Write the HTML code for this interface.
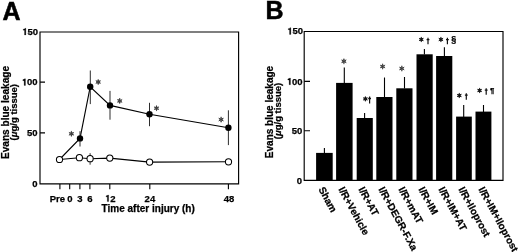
<!DOCTYPE html>
<html><head><meta charset="utf-8">
<style>
html,body{margin:0;padding:0;background:#fff;width:520px;height:252px;overflow:hidden}
svg{display:block;filter:grayscale(1)}
text{font-family:"Liberation Sans",sans-serif;font-weight:bold;fill:#000;stroke:#000;stroke-width:0.25px}
</style></head><body>
<svg width="520" height="252" viewBox="0 0 520 252">
<defs>
<g id="ast"><path d="M0,0L0.00,-2.50M0,0L2.17,-1.25M0,0L2.17,1.25M0,0L0.00,2.50M0,0L-2.17,1.25M0,0L-2.17,-1.25" stroke="#3a3a3a" stroke-width="0.80" stroke-linecap="round" fill="none"/><g fill="#3a3a3a"><circle cx="0.00" cy="-1.55" r="0.75"/><circle cx="1.34" cy="-0.77" r="0.75"/><circle cx="1.34" cy="0.77" r="0.75"/><circle cx="0.00" cy="1.55" r="0.75"/><circle cx="-1.34" cy="0.77" r="0.75"/><circle cx="-1.34" cy="-0.78" r="0.75"/></g></g>
<g id="ast2"><path d="M0,0L0.00,-2.20M0,0L1.91,-1.10M0,0L1.91,1.10M0,0L0.00,2.20M0,0L-1.91,1.10M0,0L-1.91,-1.10" stroke="#111" stroke-width="0.80" stroke-linecap="round" fill="none"/><g fill="#111"><circle cx="0.00" cy="-1.36" r="0.75"/><circle cx="1.18" cy="-0.68" r="0.75"/><circle cx="1.18" cy="0.68" r="0.75"/><circle cx="0.00" cy="1.36" r="0.75"/><circle cx="-1.18" cy="0.68" r="0.75"/><circle cx="-1.18" cy="-0.68" r="0.75"/></g></g>
<path id="one" d="M390,0V-695H292C274,-636 218,-602 115,-595V-500H252V0Z" fill="#000" stroke="#000" stroke-width="26"/>
<path id="dag" d="M0,0V6.5M-1.4,1.9H1.4" stroke="#111" stroke-width="1.2" fill="none"/>
</defs>
<rect width="520" height="252" fill="#fff"/>

<!-- ========== PANEL A ========== -->
<text x="2.4" y="19.9" font-size="25" style="stroke-width:0.5px">A</text>
<path d="M40,32H238.6V183.9H40Z" fill="none" stroke="#000" stroke-width="1.15"/>
<!-- y ticks -->
<path d="M40,132.9H45M40,82.1H45" stroke="#000" stroke-width="1.1"/>
<g font-size="9.5" text-anchor="end">
<use href="#one" transform="translate(22.15,34.90) scale(0.00950)"/><text x="38" y="34.9">50</text>
<use href="#one" transform="translate(21.75,85.40) scale(0.00950)"/><text x="37.6" y="85.4">00</text>
<text x="37.6" y="136.2">50</text>
<text x="37.6" y="186.8">0</text>
</g>
<!-- x ticks -->
<path d="M59.9,183.9V189.3M69.7,183.9V189.3M79.9,183.9V189.3M89.9,183.9V189.3M109.8,183.9V189.3M149.8,183.9V189.3M228.4,183.9V189.3" stroke="#000" stroke-width="1.1"/>
<g font-size="9.5" text-anchor="middle">
<text x="57.4" y="201.6">Pre</text>
<text x="69.8" y="201.6">0</text>
<text x="80" y="201.6">3</text>
<text x="90" y="201.6">6</text>
<use href="#one" transform="translate(104.92,201.60) scale(0.00950)"/><text x="112.84" y="201.6">2</text>
<text x="149.9" y="201.6">24</text>
<text x="229" y="201.6">48</text>
</g>
<text x="148.2" y="212.4" font-size="10" text-anchor="middle">Time after injury (h)</text>
<!-- y axis title -->
<g transform="translate(8.9,112.5) rotate(-90)">
<text x="0" y="0" font-size="10.1" text-anchor="middle">Evans blue leakage</text>
</g>
<g transform="translate(16.5,112.2) rotate(-90)">
<text x="0" y="0" font-size="9.5" text-anchor="middle">(<tspan font-style="italic">μ</tspan>g/g tissue)</text>
</g>

<!-- lines -->
<polyline points="59.5,159.5 79.4,157.7 90.1,158.7 109.8,158.1 149.6,162.1 228.5,161.8" fill="none" stroke="#000" stroke-width="1.1"/>
<polyline points="59.5,159.5 80,138.4 90.2,86.8 110,105.4 149.5,114.3 228.4,127.8" fill="none" stroke="#000" stroke-width="1.1"/>
<!-- error bars -->
<path d="M90.1,153.2V164.7M80,131.2V146.5M90.3,70.5V104.1M110,90.9V119.7M149.5,102.8V126.2M228.4,110.3V145.1" stroke="#222" stroke-width="0.95"/>
<!-- open circles -->
<g fill="#fff" stroke="#000" stroke-width="1.05">
<circle cx="59.5" cy="159.5" r="3.1"/>
<circle cx="79.4" cy="157.7" r="3.1"/>
<circle cx="90.1" cy="158.7" r="3.1"/>
<circle cx="109.8" cy="158.1" r="3.1"/>
<circle cx="149.6" cy="162.1" r="3.1"/>
<circle cx="228.5" cy="161.8" r="3.1"/>
</g>
<!-- filled circles -->
<g fill="#000">
<circle cx="80" cy="138.4" r="3.2"/>
<circle cx="90.2" cy="86.8" r="3.2"/>
<circle cx="110" cy="105.4" r="3.2"/>
<circle cx="149.5" cy="114.3" r="3.2"/>
<circle cx="228.4" cy="127.8" r="3.2"/>
</g>
<use href="#ast" x="71.4" y="133.8"/>
<use href="#ast" x="98.2" y="82"/>
<use href="#ast" x="119.7" y="100.9"/>
<use href="#ast" x="156.5" y="108.2"/>
<use href="#ast" x="221.1" y="119.6"/>

<!-- ========== PANEL B ========== -->
<text x="265.5" y="19.1" font-size="25" style="stroke-width:0.5px">B</text>
<path d="M304.2,31.5H503V180.3H304.2Z" fill="none" stroke="#000" stroke-width="1.15"/>
<path d="M304.2,130.8H310M304.2,81.4H310" stroke="#000" stroke-width="1.1"/>
<g font-size="9.5" text-anchor="end">
<use href="#one" transform="translate(287.15,34.40) scale(0.00950)"/><text x="303" y="34.4">50</text>
<use href="#one" transform="translate(286.75,84.70) scale(0.00950)"/><text x="302.6" y="84.7">00</text>
<text x="302.4" y="134.1">50</text>
<text x="302" y="183.5">0</text>
</g>
<g transform="translate(273,112) rotate(-90)">
<text x="0" y="0" font-size="10" text-anchor="middle">Evans blue leakage</text>
</g>
<g transform="translate(281,111) rotate(-90)">
<text x="0" y="0" font-size="9.5" text-anchor="middle">(<tspan font-style="italic">μ</tspan>g/g tissue)</text>
</g>
<!-- bars -->
<g fill="#000">
<rect x="316.1" y="152.9" width="16.6" height="27.4"/>
<rect x="336.1" y="82.9" width="16.5" height="97.4"/>
<rect x="356.7" y="118" width="16.1" height="62.3"/>
<rect x="376.3" y="97" width="16.2" height="83.3"/>
<rect x="396.3" y="88.3" width="16.2" height="92"/>
<rect x="416.5" y="54.3" width="16.2" height="126"/>
<rect x="436.1" y="56" width="16.2" height="124.3"/>
<rect x="456.1" y="116.6" width="15.7" height="63.7"/>
<rect x="475.5" y="111.6" width="15.9" height="68.7"/>
</g>
<path d="M324.4,148.1V153M344.3,67.4V83M364.6,113V118.5M384.5,77.4V97.5M404.5,77V88.5M424.4,49V54.5M444.4,47.2V56.5M463.7,105.1V117M483.5,105.1V112" stroke="#000" stroke-width="1.1"/>
<!-- annotations -->
<use href="#ast" x="343.9" y="61.3"/>
<use href="#ast" x="382.6" y="66.5"/>
<use href="#ast" x="401.8" y="68.5"/>
<use href="#ast2" x="365.4" y="98.9"/>
<use href="#dag" x="369.6" y="96.4" transform="translate(0,-10.3) scale(1,1.107)"/>
<use href="#ast2" x="421.3" y="39.5"/>
<use href="#dag" x="428" y="37.8"/>
<use href="#ast2" x="440.9" y="39.5"/>
<use href="#dag" x="447.4" y="37.8"/>
<text x="451.3" y="42.3" font-size="9">§</text>
<use href="#ast2" x="459.3" y="95.5"/>
<use href="#dag" x="466.3" y="93.3"/>
<use href="#ast2" x="479.6" y="90.5"/>
<use href="#dag" x="486.2" y="88.3"/>
<text x="490" y="92.8" font-size="7.6">¶</text>
<!-- x labels rotated -->
<g font-size="10">
<text transform="translate(318.2,189.2) rotate(61.5)">Sham</text>
<text transform="translate(338.2,189.2) rotate(61.5)">I/R+Vehicle</text>
<text transform="translate(358.2,189.2) rotate(61.5)">I/R+AT</text>
<text transform="translate(378.2,189.2) rotate(61.5)">I/R+DEGR-F.Xa</text>
<text transform="translate(398.2,189.2) rotate(61.5)">I/R+mAT</text>
<text transform="translate(418.2,189.2) rotate(61.5)">I/R+IM</text>
<text transform="translate(438.2,189.2) rotate(61.5)">I/R+IM+AT</text>
<text transform="translate(458.2,189.2) rotate(61.5)">I/R+Iloprost</text>
<text transform="translate(478.2,189.2) rotate(61.5)">I/R+IM+Iloprost</text>
</g>
</svg>
</body></html>
